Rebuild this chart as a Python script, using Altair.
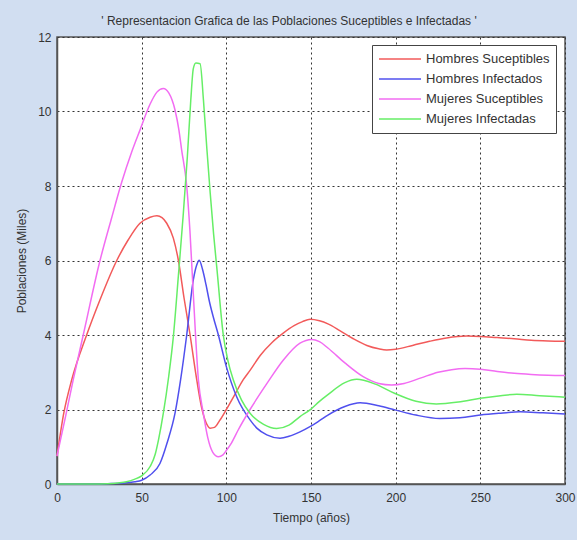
import altair as alt
import pandas as pd

# Hombres Suceptibles (red)
hs_t = [0, 4, 8.7, 17.5, 25, 35.3, 42, 49, 55, 59, 62, 64.8, 68.7, 71.7, 75, 78.6, 82, 85.4, 88, 90.4, 93, 96, 100, 105, 110, 114, 120, 127, 133.6, 140, 145, 149.5, 155, 160, 167, 175, 183, 190, 194.7, 200, 210, 220, 230, 242, 250, 260, 270, 280, 290, 300]
hs_v = [0.75, 1.9, 2.8, 4.0, 4.9, 6.0, 6.55, 7.0, 7.16, 7.2, 7.15, 7.0, 6.6, 6.0, 5.0, 4.0, 2.95, 2.05, 1.65, 1.5, 1.52, 1.7, 2.0, 2.4, 2.8, 3.05, 3.45, 3.8, 4.05, 4.25, 4.36, 4.42, 4.38, 4.3, 4.12, 3.9, 3.72, 3.63, 3.6, 3.62, 3.72, 3.83, 3.92, 3.97, 3.96, 3.93, 3.9, 3.86, 3.84, 3.83]

# Hombres Infectados (blue)
hi_t = [0, 20, 30, 40, 46, 50, 55, 60.8, 65, 69.7, 73, 76.6, 80.5, 82.5, 84, 86, 88, 90, 92.5, 95.3, 100, 106.1, 114, 118, 123.9, 131.7, 137, 143.5, 149.4, 155, 160, 170, 179, 190, 199.6, 212, 226, 238, 250, 262, 273.5, 287, 300]
hi_v = [0.0, 0.0, 0.01, 0.03, 0.06, 0.1, 0.24, 0.55, 1.1, 1.9, 2.8, 4.0, 5.48, 5.88, 6.01, 5.75, 5.35, 4.9, 4.45, 4.0, 3.15, 2.34, 1.72, 1.5, 1.32, 1.23, 1.28, 1.4, 1.54, 1.7, 1.85, 2.08, 2.18, 2.1, 1.99, 1.85, 1.76, 1.78, 1.85, 1.9, 1.94, 1.91, 1.88]

# Mujeres Suceptibles (magenta)
ms_t = [0, 5, 9.6, 15.5, 25.4, 32, 38.2, 44, 49, 55, 59, 62.8, 66, 69.7, 72, 73.6, 76.6, 78.5, 80.5, 83.5, 86.4, 89, 92, 95.3, 98, 100, 103, 107, 114, 124, 133.7, 143.5, 150.4, 155, 160, 170, 180.8, 190, 197.7, 205, 215, 225, 233, 241, 250, 260, 270, 280, 290, 300]
ms_v = [0.75, 1.8, 2.8, 4.0, 6.0, 7.1, 8.1, 8.9, 9.5, 10.2, 10.52, 10.62, 10.5, 10.04, 9.5, 8.97, 8.0, 6.8, 5.1, 2.8, 1.9, 1.25, 0.85, 0.73, 0.78, 0.9, 1.1, 1.45, 2.0, 2.7, 3.33, 3.78, 3.88, 3.82, 3.65, 3.25, 2.88, 2.7, 2.66, 2.7, 2.85, 3.0, 3.07, 3.1, 3.08, 3.02, 2.97, 2.94, 2.92, 2.91]

# Mujeres Infectadas (green)
mi_t = [0, 20, 30, 36, 41, 46, 50, 55, 58, 60, 62.8, 66, 68.7, 71.7, 74.5, 77, 79, 80.5, 82, 84.5, 86.5, 88.5, 90.5, 92.5, 94.5, 98.2, 101, 104.1, 109, 114, 122, 129.7, 137, 143.5, 149.4, 155, 160, 170, 177, 188, 199.6, 212, 224, 237, 250, 262, 271.5, 285, 300]
mi_v = [0.0, 0.0, 0.01, 0.03, 0.06, 0.13, 0.22, 0.47, 0.8, 1.2, 1.9, 2.9, 3.95, 5.6, 7.2, 8.8, 10.3, 11.15, 11.3, 11.28, 10.3, 9.0, 7.8, 6.7, 5.75, 4.0, 3.3, 2.8, 2.25, 1.9, 1.6, 1.49, 1.58, 1.81, 1.99, 2.22, 2.4, 2.72, 2.81, 2.68, 2.43, 2.22, 2.15, 2.2, 2.3, 2.37, 2.41, 2.37, 2.33]

series_names = ["Hombres Suceptibles", "Hombres Infectados", "Mujeres Suceptibles", "Mujeres Infectadas"]
series_colors = ["#f25a5a", "#5050ee", "#f26cf2", "#66ee66"]

x_ticks = [0, 50, 100, 150, 200, 250, 300]
y_ticks = [0, 2, 4, 6, 8, 10, 12]

rows = []
for name, ts, vs in zip(series_names, [hs_t, hi_t, ms_t, mi_t], [hs_v, hi_v, ms_v, mi_v]):
    for t, v in zip(ts, vs):
        rows.append({"Tiempo": t, "Poblacion": v, "Serie": name})
df = pd.DataFrame(rows)

FONT = "Liberation Sans"

chart = alt.Chart(df).mark_line(strokeWidth=1.5, interpolate="monotone").encode(
    x=alt.X("Tiempo:Q",
            scale=alt.Scale(domain=[0, 300], nice=False),
            axis=alt.Axis(values=x_ticks, title="Tiempo (años)", grid=True,
                          gridDash=[2, 3], gridColor="#333", gridOpacity=1, gridWidth=1,
                          ticks=False, labelPadding=8, titlePadding=9, labelFlush=False,
                          domainColor="#555", domainWidth=1.5)),
    y=alt.Y("Poblacion:Q",
            scale=alt.Scale(domain=[0, 12], nice=False),
            axis=alt.Axis(values=y_ticks, title="Poblaciones (Miles)", grid=True,
                          gridDash=[2, 3], gridColor="#333", gridOpacity=1, gridWidth=1,
                          ticks=False, labelPadding=6, titlePadding=9, labelFlush=False,
                          domainColor="#555", domainWidth=1.5)),
    color=alt.Color("Serie:N",
                    scale=alt.Scale(domain=series_names, range=series_colors),
                    sort=series_names,
                    legend=alt.Legend(orient="none", legendX=315, legendY=8, title=None,
                                      fillColor="white", strokeColor="#444", padding=6,
                                      symbolType="stroke", symbolSize=1764, symbolStrokeWidth=1.5,
                                      clipHeight=16, rowPadding=4, labelFontSize=13,
                                      labelColor="#333", labelFont=FONT, labelOffset=4)),
).properties(
    width=508,
    height=447,
    padding={"left": 57, "top": 37, "right": 12, "bottom": 56},
    autosize=alt.AutoSizeParams(type="none"),
    background="#d1def1",
    title=alt.TitleParams("' Representacion Grafica de las Poblaciones Suceptibles e Infectadas '",
                          fontSize=12, fontWeight="normal", color="#333", font=FONT,
                          offset=3, dx=-22),
).configure_view(
    stroke="#555", strokeWidth=1.5, fill="white"
).configure_axis(
    labelFont=FONT, labelFontSize=12, labelColor="#333",
    titleFont=FONT, titleFontSize=12, titleColor="#333", titleFontWeight="normal",
)

chart.save("out.html", embed_options={"renderer": "svg", "actions": False})
